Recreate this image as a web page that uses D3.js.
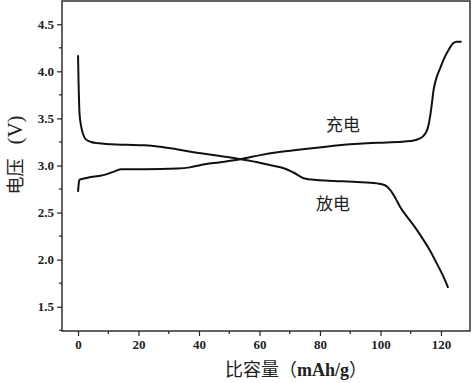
<!DOCTYPE html>
<html><head><meta charset="utf-8">
<script src="https://cdn.jsdelivr.net/npm/d3@7"></script>
<style>body{margin:0;background:#fff}svg{display:block}</style>
</head><body>
<svg id="c" width="473" height="383"></svg>
<script>
const chargeX = [0,0.2,0.5,3.2,8.7,11.5,14.2,21.9,32.9,37,40.6,47,53.7,60.3,66,73.5,82,90,95.5,102,108,111,112.8,114.2,115.2,115.9,116.5,117,117.5,118.6,119.7,120.8,122.4,124.1,125.2,126.8];
const chargeV = [2.72,2.80,2.85,2.87,2.90,2.93,2.96,2.96,2.967,2.98,3.006,3.035,3.067,3.11,3.14,3.17,3.20,3.225,3.237,3.245,3.255,3.265,3.285,3.315,3.36,3.43,3.54,3.66,3.79,3.94,4.03,4.12,4.22,4.30,4.315,4.315];
const dischargeX = [0,0.2,0.5,1.0,1.6,2.5,4.3,7,11,16,22,27,33,40.6,47,54,60,64,68,71.5,74.6,79,84.5,92,98.8,101.5,103.2,105,106.5,108.7,111.5,114.2,116.5,118.6,120.5,122.4];
const dischargeV = [4.17,3.85,3.55,3.42,3.34,3.28,3.25,3.235,3.225,3.22,3.215,3.20,3.17,3.13,3.10,3.065,3.03,3.00,2.97,2.92,2.865,2.845,2.836,2.825,2.81,2.79,2.74,2.65,2.56,2.46,2.34,2.21,2.09,1.96,1.84,1.70];
const xTicks = [0,20,40,60,80,100,120];
const yTicks = [1.5,2.0,2.5,3.0,3.5,4.0,4.5];
const seriesLabels = ["充电","放电"];

const W=473,H=383, m={l:62,t:1,r:3,b:52};
const svg=d3.select("#c");
const x=d3.scaleLinear().domain([-5.3,129.6]).range([m.l,W-m.r]);
const y=d3.scaleLinear().domain([1.242,4.747]).range([H-m.b,m.t]);
const serif="'Liberation Serif','Times New Roman',serif";
const cjk="'Noto Sans CJK SC',sans-serif";

// minor ticks
const xMinor=d3.range(10,130,20), yMinor=d3.range(1.25,4.75,0.5);
svg.append("g").selectAll("line").data(xMinor).join("line")
  .attr("x1",d=>x(d)).attr("x2",d=>x(d)).attr("y1",H-m.b).attr("y2",H-m.b+3)
  .attr("stroke","#222").attr("stroke-width",1.2);
svg.append("g").selectAll("line").data(yMinor).join("line")
  .attr("y1",d=>y(d)).attr("y2",d=>y(d)).attr("x1",m.l).attr("x2",m.l-3)
  .attr("stroke","#222").attr("stroke-width",1.2);

const xa=svg.append("g").attr("transform",`translate(0,${H-m.b})`)
  .call(d3.axisBottom(x).tickValues(xTicks).tickFormat(d3.format("d")).tickSize(5).tickPadding(4));
const ya=svg.append("g").attr("transform",`translate(${m.l},0)`)
  .call(d3.axisLeft(y).tickValues(yTicks).tickFormat(d3.format(".1f")).tickSize(5).tickPadding(3));
[xa,ya].forEach(g=>{
  g.select(".domain").remove();
  g.selectAll("line").attr("stroke","#222").attr("stroke-width",1.2);
  g.selectAll("text").attr("font-family",serif).attr("font-size",13).attr("font-weight","bold").attr("fill","#222");
});
// frame
svg.append("rect").attr("x",m.l).attr("y",m.t).attr("width",W-m.r-m.l).attr("height",H-m.b-m.t)
  .attr("fill","none").attr("stroke","#222").attr("stroke-width",1.4);

const line=d3.line().x(d=>x(d[0])).y(d=>y(d[1])).curve(d3.curveMonotoneX);
[[chargeX,chargeV],[dischargeX,dischargeV]].forEach(([xs,vs])=>{
  svg.append("path").datum(xs.map((v,i)=>[v,vs[i]])).attr("d",line)
    .attr("fill","none").attr("stroke","#111").attr("stroke-width",2).attr("stroke-linejoin","round");
});

svg.append("text").attr("x",343).attr("y",131).attr("text-anchor","middle")
  .attr("font-family",cjk).attr("font-size",17).attr("fill","#222").text(seriesLabels[0]);
svg.append("text").attr("x",333).attr("y",210).attr("text-anchor","middle")
  .attr("font-family",cjk).attr("font-size",17).attr("fill","#222").text(seriesLabels[1]);

// axis titles
const xt=svg.append("text").attr("x",296).attr("y",376).attr("text-anchor","middle")
  .attr("font-family",cjk).attr("font-size",18).attr("fill","#222");
xt.append("tspan").text("比容量（");
xt.append("tspan").attr("font-family",serif).attr("font-weight","bold").text("mAh/g");
xt.append("tspan").text("）");
const yt=svg.append("text").attr("transform","translate(22,155) rotate(-90)").attr("text-anchor","middle")
  .attr("font-family",cjk).attr("font-size",18).attr("fill","#222");
yt.append("tspan").text("电压");
yt.append("tspan").attr("dx",14).attr("font-family",serif).attr("font-size",21).text("(V)");
</script>
</body></html>
